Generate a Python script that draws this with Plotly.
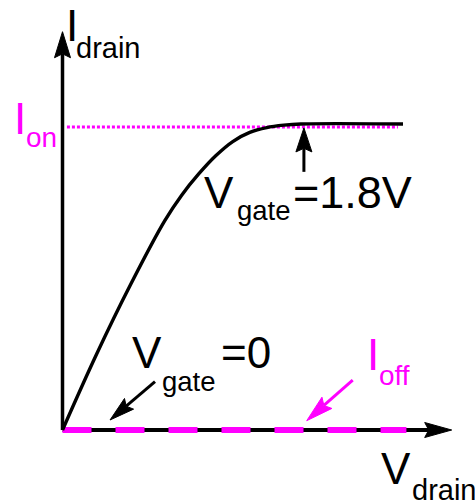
import math
import plotly.graph_objects as go

# ---------------- data (normalised units) ----------------
v_drain = [0, 0.1, 0.2, 0.3, 0.35, 0.4, 0.45, 0.5, 0.55, 0.6, 0.65, 0.7, 1.0]
i_drain_on = [0, 0.25, 0.48, 0.69, 0.775, 0.845, 0.905, 0.952, 0.982, 0.998, 1.006, 1.01, 1.01]
i_on_level = 1.0
i_on_span = [0.013, 0.985]
v_off = [0, 1.01]
i_off = [0, 0]
axis_v_end = 1.143
axis_i_end = 1.3145

# pointer arrows: (tail, tip) in data units
ptr_on = ((0.709, 0.852), (0.709, 0.997))
ptr_gate0 = ((0.2717, 0.1594), (0.1395, 0.033))
ptr_off = ((0.8523, 0.165), (0.7172, 0.0307))

# ---------------- geometry ----------------
W, H = 475, 502
X0, X1 = -62.5 / 340.5, (W - 62.5) / 340.5
Y1, Y0 = 430 / 303, -(H - 430) / 303
SX = W / (X1 - X0)
SY = H / (Y1 - Y0)

BLACK = "#000000"
MAG = "#FF00FF"

fig = go.Figure()


def arrow(tail, tip, head_len, head_w, color, width):
    tx, ty = tail[0] * SX, tail[1] * SY
    hx, hy = tip[0] * SX, tip[1] * SY
    dx, dy = hx - tx, hy - ty
    L = math.hypot(dx, dy)
    ux, uy = dx / L, dy / L
    nx, ny = -uy, ux
    bx, by = hx - ux * head_len, hy - uy * head_len
    kx, ky = hx - ux * head_len * 0.85, hy - uy * head_len * 0.85
    p1 = (bx + nx * head_w / 2, by + ny * head_w / 2)
    p2 = (bx - nx * head_w / 2, by - ny * head_w / 2)
    pts = [(hx, hy), p1, (kx, ky), p2, (hx, hy)]
    fig.add_trace(go.Scatter(
        x=[tail[0], kx / SX], y=[tail[1], ky / SY], mode="lines",
        line=dict(color=color, width=width), hoverinfo="skip"))
    fig.add_trace(go.Scatter(
        x=[p[0] / SX for p in pts], y=[p[1] / SY for p in pts], mode="lines",
        fill="toself", fillcolor=color, line=dict(color=color, width=1),
        hoverinfo="skip"))


# axes with arrowheads
arrow((0, 0), (0, axis_i_end), 26, 16, BLACK, 3.5)
arrow((0, 0), (axis_v_end, 0), 27, 15, BLACK, 4)

# I_on dotted reference
fig.add_trace(go.Scatter(
    x=i_on_span, y=[i_on_level, i_on_level], mode="lines",
    line=dict(color=MAG, width=3, dash="3px,2px"), hoverinfo="skip"))

# I_off dashed line on the axis
fig.add_trace(go.Scatter(
    x=v_off, y=i_off, mode="lines",
    line=dict(color=MAG, width=6, dash="29px,24px"), hoverinfo="skip"))

# Vgate = 1.8 V curve
fig.add_trace(go.Scatter(
    x=v_drain, y=i_drain_on, mode="lines",
    line=dict(color=BLACK, width=3.4, shape="spline", smoothing=1.0),
    hoverinfo="skip"))

# pointer arrows
arrow(*ptr_on, 24, 16, BLACK, 3)
arrow(*ptr_gate0, 25, 14, BLACK, 3)
arrow(*ptr_off, 27, 15, MAG, 3)

FONT = "Liberation Sans, Arial, sans-serif"


def label(text, left, cy, size, color=BLACK):
    fig.add_annotation(
        x=left / W, y=1 - cy / H, xref="paper", yref="paper",
        xanchor="left", yanchor="middle", text=text, showarrow=False,
        borderpad=0, borderwidth=0,
        font=dict(family=FONT, size=size, color=color))


BIG = 44
SUB_D = 29
SUB_G = 27.5
# I_drain
label("I", 66, 25.5, BIG)
label("drain", 76, 58 - 0.3465 * SUB_D, SUB_D)
# I_on
label("I", 14, 118.5, BIG, MAG)
label("on", 26, 147 - 0.3465 * 28, 28, MAG)
# Vgate = 1.8V
label("V", 204, 192.5, BIG)
label("gate", 237, 220 - 0.3465 * SUB_G, SUB_G)
label("=1.8V", 292.5, 192.5, 45)
# Vgate = 0
label("V", 132, 352.5, BIG)
label("gate", 162, 390.7 - 0.3465 * SUB_G, SUB_G)
label("=0", 220.5, 352.5, BIG)
# I_off
label("I", 366.5, 354, BIG, MAG)
label("off", 379, 385 - 0.3465 * 28, 28, MAG)
# V_drain
label("V", 381, 468.3, BIG)
label("drain", 412, 500 - 0.3465 * SUB_D, SUB_D)

fig.update_layout(
    width=W, height=H, autosize=False,
    margin=dict(l=0, r=0, t=0, b=0, pad=0),
    paper_bgcolor="white", plot_bgcolor="white",
    showlegend=False,
    xaxis=dict(range=[X0, X1], visible=False, fixedrange=True),
    yaxis=dict(range=[Y0, Y1], visible=False, fixedrange=True),
)

fig.write_html(
    "out.html",
    config={"displayModeBar": False},
    post_script="document.body.style.margin='0';document.body.style.overflow='hidden';",
)
